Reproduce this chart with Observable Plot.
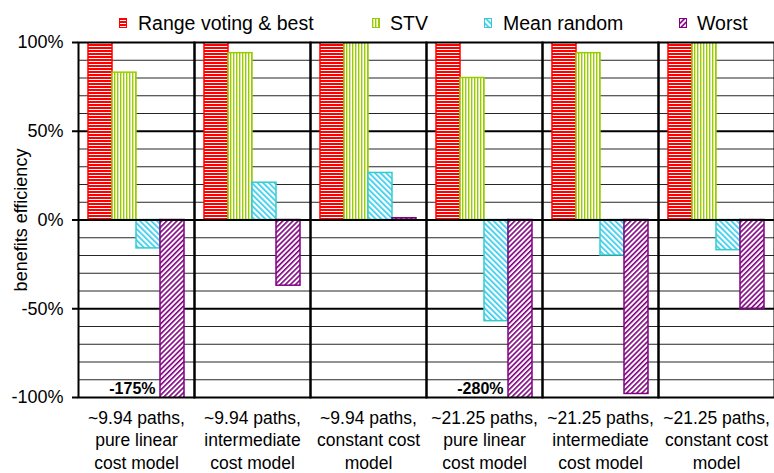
<!DOCTYPE html>
<html>
<head>
<meta charset="utf-8">
<script src="https://cdn.jsdelivr.net/npm/d3@7"></script>
<script src="https://cdn.jsdelivr.net/npm/@observablehq/plot@0.6"></script>
<style>
  html, body { margin: 0; padding: 0; background: #fff; }
  body { width: 774px; height: 473px; overflow: hidden; font-family: "Liberation Sans", Arial, sans-serif; }
  #legend { position: relative; z-index: 2; height: 20px; width: 774px; font-size: 19.5px; color: #000; }
  #legend .sw { position: absolute; top: 18px; width: 8px; height: 10px; }
  #legend .tx { position: absolute; top: 12px; line-height: 22px; white-space: nowrap; }
  #chart { position: relative; z-index: 1; }
  #chart svg [aria-label^="y-axis"] line, #chart svg [aria-label="y-axis tick"] path { stroke-width: 2px; }
</style>
</head>
<body>
<svg width="0" height="0" style="position:absolute">
  <defs>
    <pattern id="pat-red" patternUnits="userSpaceOnUse" width="6" height="3">
      <rect width="6" height="3" fill="#fff"/>
      <rect width="6" height="2" fill="#ff0000"/>
    </pattern>
    <pattern id="pat-green" patternUnits="userSpaceOnUse" width="3" height="6">
      <rect width="3" height="6" fill="#fff"/>
      <rect width="1.4" height="6" fill="#99cc00"/>
    </pattern>
    <pattern id="pat-cyan" patternUnits="userSpaceOnUse" width="4" height="4" patternTransform="rotate(-45)">
      <rect width="4" height="4" fill="#fff"/>
      <rect width="1.7" height="4" fill="#33ccee"/>
    </pattern>
    <pattern id="pat-purple" patternUnits="userSpaceOnUse" width="3.6" height="4" patternTransform="rotate(45)">
      <rect width="3.6" height="4" fill="#fff"/>
      <rect width="1.6" height="4" fill="#800080"/>
    </pattern>
  </defs>
</svg>
<div id="legend"></div>
<div id="chart"></div>
<script>
// ---- data ----
const categories = [
  "~9.94 paths,\npure linear\ncost model",
  "~9.94 paths,\nintermediate\ncost model",
  "~9.94 paths,\nconstant cost\nmodel",
  "~21.25 paths,\npure linear\ncost model",
  "~21.25 paths,\nintermediate\ncost model",
  "~21.25 paths,\nconstant cost\nmodel"
];
const seriesNames = ["Range voting & best", "STV", "Mean random", "Worst"];
const rangeVoting = [100, 100, 100, 100, 100, 100];
const stv         = [83, 94, 100, 80, 94, 100];
const meanRandom  = [-16, 21, 26.5, -57, -20, -17];
const worst       = [-175, -37, 1, -280, -98, -50];
const seriesValues = [rangeVoting, stv, meanRandom, worst];
const yTicks = [-100, -50, 0, 50, 100];
const gridValues = [-90, -80, -70, -60, -40, -30, -20, -10, 10, 20, 30, 40, 60, 70, 80, 90];
const halfValues = [-50, 50];
const annGroups = [categories[0], categories[3]];
const annTexts = ["-175%", "-280%"];

// ---- styles ----
const strokes = ["#ff0000", "#99cc00", "#33cccc", "#800080"];
const fills = ["url(#pat-red)", "url(#pat-green)", "url(#pat-cyan)", "url(#pat-purple)"];

const rows = categories.flatMap((c, i) =>
  seriesNames.map((s, j) => ({group: c, series: s, value: seriesValues[j][i]}))
);

// ---- legend ----
const legend = document.getElementById("legend");
const swX = [119, 372, 484, 679];
const txX = [138, 390, 503, 697];
seriesNames.forEach((s, j) => {
  const sw = document.createElementNS("http://www.w3.org/2000/svg", "svg");
  sw.setAttribute("class", "sw");
  sw.setAttribute("width", 8); sw.setAttribute("height", 10);
  sw.style.left = swX[j] + "px";
  sw.innerHTML = `<rect x="0.5" y="0.5" width="7" height="9" fill="${fills[j]}" stroke="${strokes[j]}" stroke-width="1"/>`;
  legend.appendChild(sw);
  const t = document.createElement("div");
  t.className = "tx";
  t.style.left = txX[j] + "px";
  t.textContent = s;
  legend.appendChild(t);
});

// ---- chart ----
const chart = Plot.plot({
  width: 774,
  height: 453,
  marginTop: 22,
  marginLeft: 78,
  marginRight: 0,
  marginBottom: 76,
  style: {fontSize: "18px", fontFamily: "Liberation Sans, Arial, sans-serif", background: "transparent", color: "#000", overflow: "visible"},
  fx: {domain: categories, paddingInner: 0, paddingOuter: 0, axis: null, label: null},
  x: {domain: seriesNames, paddingInner: 0, paddingOuter: 0.4, axis: null, label: null},
  y: {
    domain: [-100, 100],
    ticks: yTicks,
    tickFormat: d => `${d}%`,
    tickSize: 6,
    tickPadding: 9,
    label: "benefits efficiency",
    labelAnchor: "center",
    labelOffset: 64,
    labelArrow: "none"
  },
  marks: [
    Plot.ruleY(gridValues, {stroke: "#000", strokeOpacity: 0.85, strokeWidth: 1}),
    Plot.ruleY(halfValues, {stroke: "#000", strokeWidth: 2}),
    ...seriesNames.map((s, j) =>
      Plot.barY(rows.filter(d => d.series === s), {
        fx: "group", x: "series", y: "value",
        fill: fills[j], stroke: strokes[j], strokeWidth: 1.5, clip: true
      })
    ),
    Plot.ruleY([0], {stroke: "#000", strokeWidth: 2}),
    Plot.frame({stroke: "#000", strokeWidth: 2}),
    Plot.text(annGroups, {
      fx: d => d, x: () => "Worst", y: () => -95,
      text: (d, i) => annTexts[i],
      textAnchor: "end", dx: -17, fontWeight: "bold", fontSize: 16
    }),
    Plot.text(categories, {
      fx: d => d, text: d => d,
      frameAnchor: "bottom", lineAnchor: "top", dy: 10,
      fontSize: 17.5, lineHeight: 1.3
    })
  ]
});
document.getElementById("chart").appendChild(chart);
</script>
</body>
</html>
